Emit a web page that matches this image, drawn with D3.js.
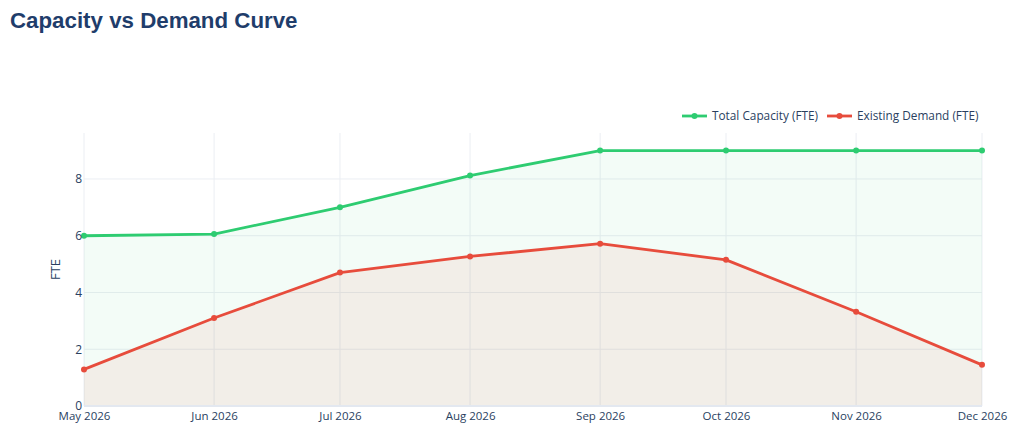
<!DOCTYPE html>
<html>
<head>
<meta charset="utf-8">
<script src="https://cdn.jsdelivr.net/npm/d3@7"></script>
<style>
  html, body { margin: 0; padding: 0; background: #fff; }
  svg { display: block; }
</style>
</head>
<body>
<svg id="chart" width="1024" height="433"></svg>
<script>
const months = ["2026-05-01","2026-06-01","2026-07-01","2026-08-01","2026-09-01","2026-10-01","2026-11-01","2026-12-01"];
const monthLabels = ["May 2026","Jun 2026","Jul 2026","Aug 2026","Sep 2026","Oct 2026","Nov 2026","Dec 2026"];
const capacity = [6.0, 6.06, 7.0, 8.12, 9.0, 9.0, 9.0, 9.0];
const demand = [1.29, 3.1, 4.7, 5.27, 5.72, 5.15, 3.32, 1.45];
const yTicks = [0, 2, 4, 6, 8];
const seriesNames = ["Total Capacity (FTE)", "Existing Demand (FTE)"];

const svg = d3.select("#chart");
const W = 1024, H = 433;
const m = { left: 84, right: 42, top: 133, bottom: 27 };
const parse = d3.timeParse("%Y-%m-%d");
const dates = months.map(parse);

const x = d3.scaleTime().domain(d3.extent(dates)).range([m.left, W - m.right]);
const y = d3.scaleLinear().domain([0, 9.62]).range([H - m.bottom, m.top]);

const tickColor = "#2a3f5f";
const gridColor = "#ebeef3";
const font = "'Open Sans', 'DejaVu Sans', sans-serif";

// Title
svg.append("text").attr("x", 10).attr("y", 28)
  .attr("font-family", "'Liberation Sans', Arial, sans-serif")
  .attr("font-weight", "bold").attr("font-size", 22.3)
  .attr("fill", "#1f3d6b").text("Capacity vs Demand Curve");

// Grid
const g = svg.append("g");
g.selectAll("line.vg").data(dates).join("line")
  .attr("x1", d => x(d)).attr("x2", d => x(d))
  .attr("y1", m.top).attr("y2", H - m.bottom)
  .attr("stroke", gridColor).attr("stroke-width", 1);
g.selectAll("line.hg").data(yTicks.filter(t => t > 0)).join("line")
  .attr("x1", m.left).attr("x2", W - m.right)
  .attr("y1", d => y(d)).attr("y2", d => y(d))
  .attr("stroke", gridColor).attr("stroke-width", 1);

// Areas
const capData = dates.map((d, i) => ({ d, v: capacity[i] }));
const demData = dates.map((d, i) => ({ d, v: demand[i] }));
const area = d3.area().x(p => x(p.d)).y0(y(0)).y1(p => y(p.v));
const line = d3.line().x(p => x(p.d)).y(p => y(p.v));

svg.append("path").datum(capData).attr("d", area).attr("fill", "rgba(46,204,113,0.06)");
svg.append("path").datum(demData).attr("d", area).attr("fill", "rgba(231,76,60,0.08)");

// zero line
svg.append("line").attr("x1", m.left).attr("x2", W - m.right)
  .attr("y1", y(0)).attr("y2", y(0)).attr("stroke", "#e3e8f0").attr("stroke-width", 2);

const series = [
  { data: capData, color: "#2ecc71" },
  { data: demData, color: "#e74c3c" }
];
series.forEach(s => {
  svg.append("path").datum(s.data).attr("d", line)
    .attr("fill", "none").attr("stroke", s.color).attr("stroke-width", 2.8)
    .attr("stroke-linejoin", "round");
  svg.selectAll(null).data(s.data).join("circle")
    .attr("cx", p => x(p.d)).attr("cy", p => y(p.v)).attr("r", 3)
    .attr("fill", s.color);
});

// Axes
const xAxis = d3.axisBottom(x).tickValues(dates).tickFormat((d, i) => monthLabels[i]).tickSize(0).tickPadding(6);
const xg = svg.append("g").attr("transform", `translate(0,${H - m.bottom})`).call(xAxis);
xg.select(".domain").remove();
xg.selectAll("text").attr("font-family", font).attr("font-size", 11.5).attr("fill", tickColor);

const yAxis = d3.axisLeft(y).tickValues(yTicks).tickSize(0).tickPadding(2);
const yg = svg.append("g").attr("transform", `translate(${m.left},0)`).call(yAxis);
yg.select(".domain").remove();
yg.selectAll("text").attr("font-family", font).attr("font-size", 12).attr("fill", tickColor);

svg.append("text")
  .attr("transform", `translate(60,${(m.top + H - m.bottom) / 2}) rotate(-90)`)
  .attr("text-anchor", "middle").attr("font-family", font).attr("font-size", 13)
  .attr("fill", tickColor).text("FTE");

// Legend
const legendItems = [
  { name: seriesNames[0], color: "#2ecc71", x: 682 },
  { name: seriesNames[1], color: "#e74c3c", x: 827 }
];
const ly = 116;
legendItems.forEach(it => {
  svg.append("line").attr("x1", it.x).attr("x2", it.x + 25).attr("y1", ly).attr("y2", ly)
    .attr("stroke", it.color).attr("stroke-width", 2.8);
  svg.append("circle").attr("cx", it.x + 12.5).attr("cy", ly).attr("r", 3).attr("fill", it.color);
  svg.append("text").attr("x", it.x + 30).attr("y", ly + 4)
    .attr("font-family", font).attr("font-size", 11.8).attr("fill", tickColor).text(it.name);
});
</script>
</body>
</html>
